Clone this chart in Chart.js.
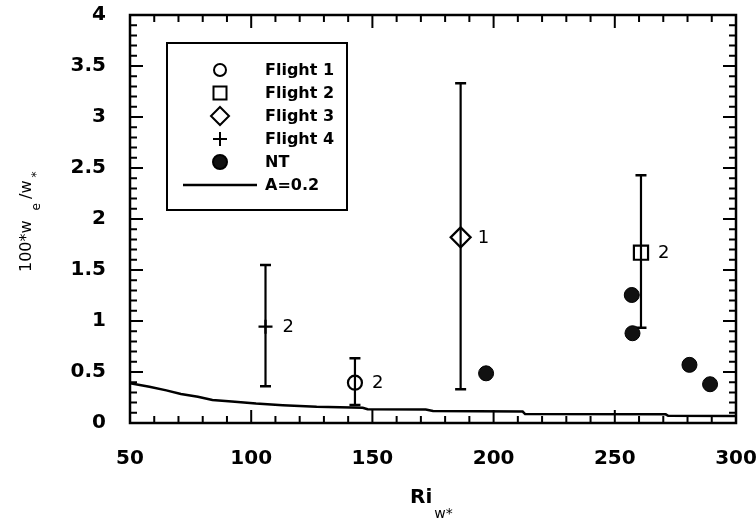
<!DOCTYPE html>
<html><head><meta charset="utf-8">
<script src="https://cdn.jsdelivr.net/npm/chart.js@4.4.0/dist/chart.umd.min.js"></script>
<style>html,body{margin:0;padding:0;background:#fff}#wrap{width:756px;height:520px}</style>
</head><body><div id="wrap"><canvas id="c" width="756" height="520"></canvas></div>
<script>
// ---- data ----
const xTicks = [50, 100, 150, 200, 250, 300];
const yTicks = [0, 0.5, 1, 1.5, 2, 2.5, 3, 3.5, 4];
const yTickLabels = ['0', '0.5', '1', '1.5', '2', '2.5', '3', '3.5', '4'];
const flightNames = ['Flight 1', 'Flight 2', 'Flight 3', 'Flight 4'];
const flightStyles = ['circle', 'rect', 'rectRot', 'cross'];
const flightRi   = [142.8, 260.8, 186.4, 105.9];
const flightW    = [0.395, 1.67, 1.82, 0.944];
const flightLow  = [0.176, 0.934, 0.33, 0.36];
const flightHigh = [0.634, 2.43, 3.33, 1.55];
const flightCount = ['2', '2', '1', '2'];
const ntRi = [196.9, 257.0, 257.3, 280.8, 289.3];
const ntW  = [0.487, 1.255, 0.88, 0.57, 0.38];
const curveRi = [50, 58, 65, 71, 78, 84, 92, 102, 113, 127, 146, 148, 172, 175, 212, 213, 271, 272, 300];
const curveW  = [0.39, 0.356, 0.32, 0.284, 0.258, 0.225, 0.21, 0.19, 0.175, 0.16, 0.15, 0.135, 0.132, 0.118, 0.112, 0.088, 0.085, 0.07, 0.068];

const FONT = "'DejaVu Sans', sans-serif";
const pointR = {circle: 7, rect: 10, rectRot: 10, cross: 7};

const datasets = flightNames.map((name, i) => ({
  label: name,
  data: [{x: flightRi[i], y: flightW[i], lo: flightLow[i], hi: flightHigh[i], txt: flightCount[i]}],
  pointStyle: flightStyles[i],
  pointRadius: pointR[flightStyles[i]],
  pointBorderWidth: 2.2,
  borderColor: '#000',
  backgroundColor: 'rgba(0,0,0,0)',
  showLine: false,
  errorBars: true
}));
datasets.push({
  label: 'NT',
  data: ntRi.map((x, i) => ({x, y: ntW[i]})),
  pointStyle: 'circle', pointRadius: 7.5, pointBorderWidth: 1,
  borderColor: '#000', backgroundColor: '#111', showLine: false
});
datasets.push({
  label: 'A=0.2',
  data: curveRi.map((x, i) => ({x, y: curveW[i]})),
  showLine: true, pointRadius: 0, borderColor: '#000', borderWidth: 2.5, fill: false
});

const errorBarPlugin = {
  id: 'errbars',
  beforeDatasetsDraw(chart) {
    const {ctx, scales: {x, y}} = chart;
    ctx.save();
    ctx.strokeStyle = '#000';
    chart.data.datasets.forEach(ds => {
      if (!ds.errorBars) return;
      ds.data.forEach(p => {
        const px = x.getPixelForValue(p.x);
        const yl = y.getPixelForValue(p.lo), yh = y.getPixelForValue(p.hi);
        ctx.lineWidth = 2.2;
        ctx.beginPath(); ctx.moveTo(px, yl); ctx.lineTo(px, yh); ctx.stroke();
        ctx.lineWidth = 2.5;
        ctx.beginPath();
        ctx.moveTo(px - 5.5, yl); ctx.lineTo(px + 5.5, yl);
        ctx.moveTo(px - 5.5, yh); ctx.lineTo(px + 5.5, yh);
        ctx.stroke();
      });
    });
    ctx.restore();
  },
  afterDatasetsDraw(chart) {
    const {ctx, scales: {x, y}} = chart;
    ctx.save();
    ctx.fillStyle = '#000';
    ctx.font = "18px " + FONT;
    ctx.textBaseline = 'middle';
    ctx.textAlign = 'left';
    chart.data.datasets.forEach(ds => {
      if (!ds.errorBars) return;
      ds.data.forEach(p => {
        ctx.fillText(p.txt, x.getPixelForValue(p.x) + 17, y.getPixelForValue(p.y) + 1);
      });
    });
    ctx.restore();
  }
};

function drawSym(ctx, style, cx, cy, filled) {
  ctx.beginPath();
  if (style === 'circle') { ctx.arc(cx, cy, filled ? 7 : 6, 0, Math.PI * 2); }
  else if (style === 'rect') { ctx.rect(cx - 6.5, cy - 6.5, 13, 13); }
  else if (style === 'rectRot') { ctx.moveTo(cx, cy - 9); ctx.lineTo(cx + 9, cy); ctx.lineTo(cx, cy + 9); ctx.lineTo(cx - 9, cy); ctx.closePath(); }
  else if (style === 'cross') { ctx.moveTo(cx - 7, cy); ctx.lineTo(cx + 7, cy); ctx.moveTo(cx, cy - 7); ctx.lineTo(cx, cy + 7); }
  if (filled) { ctx.fillStyle = '#111'; ctx.fill(); }
  ctx.stroke();
}

const framePlugin = {
  id: 'frame',
  afterDraw(chart) {
    const {ctx, chartArea: a, scales: {x, y}} = chart;
    ctx.save();
    ctx.strokeStyle = '#000';
    ctx.lineWidth = 2.5;
    ctx.strokeRect(a.left, a.top, a.right - a.left, a.bottom - a.top);
    ctx.lineWidth = 2;
    ctx.beginPath();
    for (let v = 50; v <= 300; v += 10) {
      const px = x.getPixelForValue(v);
      const len = (v % 50 === 0) ? 13 : 7;
      ctx.moveTo(px, a.bottom); ctx.lineTo(px, a.bottom - len);
      ctx.moveTo(px, a.top); ctx.lineTo(px, a.top + len);
    }
    for (let k = 0; k <= 40; k++) {
      const py = y.getPixelForValue(k / 10);
      const len = (k % 5 === 0) ? 13 : 7;
      ctx.moveTo(a.left, py); ctx.lineTo(a.left + len, py);
      ctx.moveTo(a.right, py); ctx.lineTo(a.right - len, py);
    }
    ctx.stroke();

    // legend
    const bx = a.left + 37, by = a.top + 28, bw = 180, bh = 167;
    ctx.lineWidth = 2;
    ctx.strokeRect(bx, by, bw, bh);
    ctx.font = "bold 16px " + FONT;
    ctx.fillStyle = '#000';
    ctx.textBaseline = 'middle';
    ctx.textAlign = 'left';
    chart.data.datasets.forEach((ds, i) => {
      const ry = by + 27 + i * 23;
      ctx.lineWidth = 2;
      ctx.strokeStyle = '#000';
      if (ds.showLine) {
        ctx.lineWidth = 2.5;
        ctx.beginPath(); ctx.moveTo(bx + 16, ry); ctx.lineTo(bx + 90, ry); ctx.stroke();
      } else {
        drawSym(ctx, ds.pointStyle, bx + 53, ry, ds.label === 'NT');
      }
      ctx.fillStyle = '#000';
      ctx.fillText(ds.label, bx + 98, ry + 1);
    });

    // axis titles
    ctx.fillStyle = '#000';
    ctx.textAlign = 'left';
    ctx.textBaseline = 'alphabetic';
    ctx.font = "bold 20px " + FONT;
    ctx.fillText('Ri', 410, 503);
    const riW = ctx.measureText('Ri').width;
    ctx.font = "14px " + FONT;
    ctx.fillText('w*', 410 + riW + 2, 518);

    ctx.save();
    ctx.translate(31, 272);
    ctx.rotate(-Math.PI / 2);
    ctx.font = "16px " + FONT;
    ctx.fillText('100*w', 0, 0);
    let off = ctx.measureText('100*w').width + 10;
    ctx.font = "12px " + FONT;
    ctx.fillText('e', off, 9);
    off += ctx.measureText('e').width + 4;
    ctx.font = "16px " + FONT;
    ctx.fillText('/w', off, 0);
    off += ctx.measureText('/w').width + 3;
    ctx.font = "12px " + FONT;
    ctx.fillText('*', off, 9);
    ctx.restore();
    ctx.restore();
  }
};

new Chart(document.getElementById('c'), {
  type: 'scatter',
  data: {datasets},
  options: {
    responsive: false,
    animation: false,
    devicePixelRatio: 1,
    layout: {padding: {top: 15, right: 20, left: 0, bottom: 0}},
    plugins: {legend: {display: false}, tooltip: {enabled: false}},
    scales: {
      x: {
        type: 'linear', position: 'bottom', min: 50, max: 300,
        afterBuildTicks: s => { s.ticks = xTicks.map(v => ({value: v})); },
        afterFit: s => { s.height = 97; s.paddingLeft = 0; s.paddingRight = 0; },
        grid: {display: false, drawTicks: false},
        border: {display: false},
        ticks: {color: '#000', padding: 24, maxRotation: 0, font: {family: FONT, size: 20, weight: 'bold'}}
      },
      y: {
        type: 'linear', min: 0, max: 4,
        afterBuildTicks: s => { s.ticks = yTicks.map(v => ({value: v})); },
        afterFit: s => { s.width = 130; s.paddingTop = 0; s.paddingBottom = 0; },
        grid: {display: false, drawTicks: false},
        border: {display: false},
        ticks: {color: '#000', padding: 24, font: {family: FONT, size: 20, weight: 'bold'},
          callback: (v) => { const i = yTicks.indexOf(v); return i >= 0 ? yTickLabels[i] : ''; }}
      }
    }
  },
  plugins: [errorBarPlugin, framePlugin]
});
</script>
</body></html>
